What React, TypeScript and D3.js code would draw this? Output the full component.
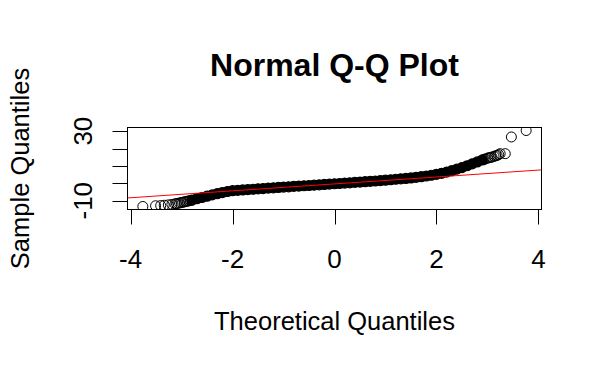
import React from "react";
import * as d3 from "d3";

const W = 607;
const H = 369;

// Sparse lower tail (open circles)
const lowTailQ = [-3.76, -3.51, -3.41, -3.34, -3.26, -3.19, -3.13, -3.1, -3.07, -3.04, -3.01, -2.98, -2.95, -2.92, -2.89, -2.86, -2.83];
const lowTailV = [-13.3, -12.9, -12.8, -12.6, -12.4, -12.1, -11.8, -11.65, -11.5, -11.3, -11.1, -10.9, -10.7, -10.5, -10.3, -10.1, -9.9];

// Dense body (heavily overplotted region)
const bodyQ = [
  -2.8, -2.7, -2.6, -2.5, -2.4, -2.3, -2.2, -2.1, -2.0, -1.9, -1.8, -1.7, -1.6, -1.5, -1.4, -1.3, -1.2, -1.1, -1.0,
  -0.9, -0.8, -0.7, -0.6, -0.5, -0.4, -0.3, -0.2, -0.1, 0.0, 0.1, 0.2, 0.3, 0.4, 0.5, 0.6, 0.7, 0.8, 0.9, 1.0,
  1.1, 1.2, 1.3, 1.4, 1.5, 1.6, 1.7, 1.8, 1.9, 2.0, 2.1, 2.2, 2.3, 2.4, 2.5, 2.6, 2.7, 2.8, 2.9,
];
const bodyV = [
  -9.7, -8.85, -8.15, -7.4, -6.65, -5.95, -5.3, -4.7, -4.23, -4.0, -3.8, -3.6, -3.4, -3.15, -3.0, -2.75, -2.6, -2.35, -2.15,
  -2.0, -1.75, -1.6, -1.4, -1.25, -1.05, -0.85, -0.65, -0.45, -0.25, -0.1, 0.15, 0.3, 0.55, 0.7, 0.95, 1.15, 1.35, 1.6, 1.8,
  2.05, 2.35, 2.6, 2.8, 3.1, 3.45, 3.8, 4.2, 4.65, 5.2, 5.75, 6.45, 7.25, 8.15, 9.05, 10.1, 11.2, 12.3, 13.45,
];

// Sparse upper tail (open circles)
const highTailQ = [2.93, 2.96, 3.0, 3.03, 3.06, 3.09, 3.13, 3.16, 3.19, 3.22, 3.25, 3.35, 3.47, 3.76];
const highTailV = [13.7, 14.0, 14.5, 14.7, 14.9, 15.1, 15.5, 15.8, 16.05, 16.5, 17.05, 17.05, 26.65, 30.35];

const xTicks = [-4, -2, 0, 2, 4];
const yTicks = [-10, 0, 10, 20, 30];
const yTickLabels = ["-10", "", "", "", "30"];

// qqline: passes through the sample quartiles vs theoretical quartiles
const qqLineQ = [-0.674, 0.674];
const qqLineV = [-1.68, 1.0];

const FONT = "'Liberation Sans', Arial, Helvetica, sans-serif";

export default function App() {
  const left = 127.5, right = 541.5, top = 127.5, bottom = 209.5;

  const allQ = [...lowTailQ, ...bodyQ, ...highTailQ];
  const allV = [...lowTailV, ...bodyV, ...highTailV];
  const [qMin, qMax] = d3.extent(allQ) as [number, number];
  const [vMin, vMax] = d3.extent(allV) as [number, number];
  const qPad = (qMax - qMin) * 0.04;
  const vPad = (vMax - vMin) * 0.04;

  const x = d3.scaleLinear().domain([qMin - qPad, qMax + qPad]).range([left, right]);
  const y = d3.scaleLinear().domain([vMin - vPad, vMax + vPad]).range([bottom, top]);

  const slope = (qqLineV[1] - qqLineV[0]) / (qqLineQ[1] - qqLineQ[0]);
  const intercept = qqLineV[0] - slope * qqLineQ[0];
  const [d0, d1] = x.domain();
  const linePts: [number, number][] = [
    [d0, intercept + slope * d0],
    [d1, intercept + slope * d1],
  ];
  const lineGen = d3.line<[number, number]>().x((d) => x(d[0])).y((d) => y(d[1]));

  const r = 5;
  const lows = lowTailQ.map((q, i) => [q, lowTailV[i]]);
  const body = bodyQ.map((q, i) => [q, bodyV[i]]);
  const highs = highTailQ.map((q, i) => [q, highTailV[i]]);
  const cx = (left + right) / 2;
  const px = (v: number) => Math.round(v) + 0.5;

  return (
    <svg
      width={W}
      height={H}
      viewBox={`0 0 ${W} ${H}`}
      style={{ position: "absolute", left: 0, top: 0, background: "#fff" }}
      fontFamily={FONT}
    >
      <rect x={0} y={0} width={W} height={H} fill="#fff" />
      <defs>
        <clipPath id="plotClip">
          <rect x={left} y={top} width={right - left} height={bottom - top} />
        </clipPath>
      </defs>

      <g clipPath="url(#plotClip)">
        {body.map((d, i) => (
          <circle key={"b" + i} cx={x(d[0])} cy={y(d[1])} r={r} fill="#000" stroke="#000" strokeWidth={1.2} />
        ))}
        {lows.map((d, i) => (
          <circle key={"l" + i} cx={x(d[0])} cy={y(d[1])} r={r} fill="none" stroke="#000" strokeWidth={1} />
        ))}
        {highs.map((d, i) => (
          <circle key={"h" + i} cx={x(d[0])} cy={y(d[1])} r={r} fill="none" stroke="#000" strokeWidth={1} />
        ))}
        <path d={lineGen(linePts) || ""} stroke="#ff0000" strokeWidth={1} fill="none" />
      </g>

      <rect x={left} y={top} width={right - left} height={bottom - top} fill="none" stroke="#000" strokeWidth={1} />

      {/* x axis */}
      <line x1={x(xTicks[0])} x2={x(xTicks[xTicks.length - 1])} y1={bottom} y2={bottom} stroke="#000" />
      {xTicks.map((t) => (
        <g key={"xt" + t}>
          <line x1={px(x(t))} x2={px(x(t))} y1={bottom} y2={bottom + 15} stroke="#000" />
          <text x={x(t)} y={268} textAnchor="middle" fontSize={26} fill="#000">
            {t}
          </text>
        </g>
      ))}

      {/* y axis */}
      <line x1={left} x2={left} y1={y(yTicks[0])} y2={y(yTicks[yTicks.length - 1])} stroke="#000" />
      {yTicks.map((t, i) => (
        <g key={"yt" + t}>
          <line x1={left - 15} x2={left} y1={px(y(t))} y2={px(y(t))} stroke="#000" />
          {yTickLabels[i] && (
            <text
              transform={`translate(92, ${y(t)}) rotate(-90)`}
              textAnchor="middle"
              fontSize={26}
              fill="#000"
            >
              {yTickLabels[i]}
            </text>
          )}
        </g>
      ))}

      <text x={cx} y={76} textAnchor="middle" fontSize={32} fontWeight="bold" fill="#000">
        Normal Q-Q Plot
      </text>
      <text x={cx} y={330} textAnchor="middle" fontSize={25.5} fill="#000">
        Theoretical Quantiles
      </text>
      <text
        transform={`translate(29, ${(top + bottom) / 2}) rotate(-90)`}
        textAnchor="middle"
        fontSize={25.5}
        fill="#000"
      >
        Sample Quantiles
      </text>
    </svg>
  );
}
